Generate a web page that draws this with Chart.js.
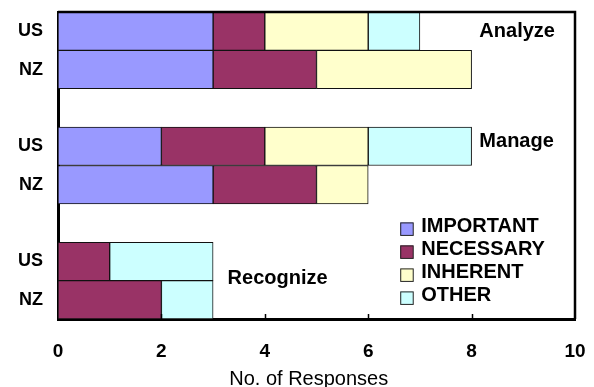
<!DOCTYPE html>
<html><head><meta charset="utf-8">
<script src="https://cdn.jsdelivr.net/npm/chart.js@4/dist/chart.umd.min.js"></script>
<style>html,body{margin:0;padding:0;background:#fff}#wrap{width:594px;height:387px;position:relative}</style>
</head><body><div id="wrap"><canvas id="c" width="594" height="387"></canvas></div>
<script>
// Rows: two countries per skill, an empty row separating each skill group
const countries = ['US', 'NZ', '', 'US', 'NZ', '', 'US', 'NZ'];
const important = [3, 3, null, 2, 3, null, 0, 0];
const necessary = [1, 2, null, 2, 2, null, 1, 2];
const inherent  = [2, 3, null, 2, 1, null, 0, 0];
const other     = [1, 0, null, 2, 0, null, 2, 1];
const seriesNames = ['IMPORTANT', 'NECESSARY', 'INHERENT', 'OTHER'];
const seriesColors = ['#9999FF', '#993366', '#FFFFCC', '#CCFFFF'];
const skillNames = ['Analyze', 'Manage', 'Recognize'];
const xTicks = [0, 2, 4, 6, 8, 10];
const xTitle = 'No. of Responses';

const FONT = '"Liberation Sans", Arial, sans-serif';
const seriesValues = [important, necessary, inherent, other];

// where each skill name sits: [x value, row index] (left aligned)
const skillLabelPlace = [[8.15, 0.0], [8.15, 2.87], [3.28, 6.45]];

// keep the plot area fixed: no extra room for edge labels
const noEdgePadding = s => {
  s.paddingLeft = s.paddingRight = s.paddingTop = s.paddingBottom = 0;
};

const extras = {
  id: 'extras',
  afterDatasetsDraw(chart) {
    const {ctx, chartArea: a, scales: {x, y}} = chart;
    ctx.save();
    // frame on top and right
    ctx.strokeStyle = '#000';
    ctx.lineWidth = 2.5;
    ctx.beginPath();
    ctx.moveTo(a.left, a.top);
    ctx.lineTo(a.right, a.top);
    ctx.lineTo(a.right, a.bottom);
    ctx.stroke();
    // small inward tick marks on the value axis
    ctx.lineWidth = 1.5;
    xTicks.slice(1, -1).forEach(v => {
      const px = Math.round(x.getPixelForValue(v)) + 0.5;
      ctx.beginPath();
      ctx.moveTo(px, a.bottom);
      ctx.lineTo(px, a.bottom - 5);
      ctx.stroke();
    });
    // axis title, a little left of the plot centre
    ctx.fillStyle = '#000';
    ctx.font = '20px ' + FONT;
    ctx.textAlign = 'center';
    ctx.textBaseline = 'alphabetic';
    ctx.fillText(xTitle, x.getPixelForValue(4.85), x.bottom - 2);
    // skill names
    ctx.font = 'bold 20px ' + FONT;
    ctx.textAlign = 'left';
    ctx.textBaseline = 'middle';
    skillNames.forEach((s, i) => {
      const [vx, vy] = skillLabelPlace[i];
      ctx.fillText(s, x.getPixelForValue(vx), y.getPixelForValue(vy));
    });
    // legend
    const lx = x.getPixelForValue(6.6);
    let ly = y.getPixelForValue(5.1);
    seriesNames.forEach((n, i) => {
      ctx.fillStyle = seriesColors[i];
      ctx.fillRect(lx + 1, ly - 4.5, 13, 13);
      ctx.strokeStyle = '#222';
      ctx.lineWidth = 1;
      ctx.strokeRect(lx + 1.5, ly - 4, 12.5, 12.5);
      ctx.fillStyle = '#000';
      ctx.fillText(n, lx + 22, ly);
      ly += 23;
    });
    ctx.restore();
  }
};

new Chart(document.getElementById('c'), {
  type: 'bar',
  data: {
    labels: countries,
    datasets: seriesNames.map((n, i) => ({
      label: n,
      data: seriesValues[i],
      backgroundColor: seriesColors[i],
      borderColor: '#111',
      borderWidth: 1,
      borderSkipped: false,
      barPercentage: 1,
      categoryPercentage: 1
    }))
  },
  options: {
    indexAxis: 'y',
    responsive: false,
    animation: false,
    layout: {padding: {top: 12, right: 19, left: 0, bottom: 0}},
    plugins: {legend: {display: false}, tooltip: {enabled: false}},
    scales: {
      x: {
        stacked: true,
        min: 0, max: 10,
        afterBuildTicks: s => { s.ticks = xTicks.map(v => ({value: v})); },
        afterFit: s => { s.height = 68; noEdgePadding(s); },
        grid: {display: false, drawTicks: false},
        border: {display: true, color: '#000', width: 3},
        ticks: {color: '#000', padding: 21, font: {family: FONT, size: 19, weight: 'bold'}, maxRotation: 0},
        title: {display: false}
      },
      y: {
        stacked: true,
        afterFit: s => { s.width = 58; noEdgePadding(s); },
        grid: {display: false, drawTicks: false},
        border: {display: true, color: '#000', width: 3},
        ticks: {color: '#000', padding: 15, font: {family: FONT, size: 18, weight: 'bold'}}
      }
    }
  },
  plugins: [extras]
});
</script>
</body></html>
